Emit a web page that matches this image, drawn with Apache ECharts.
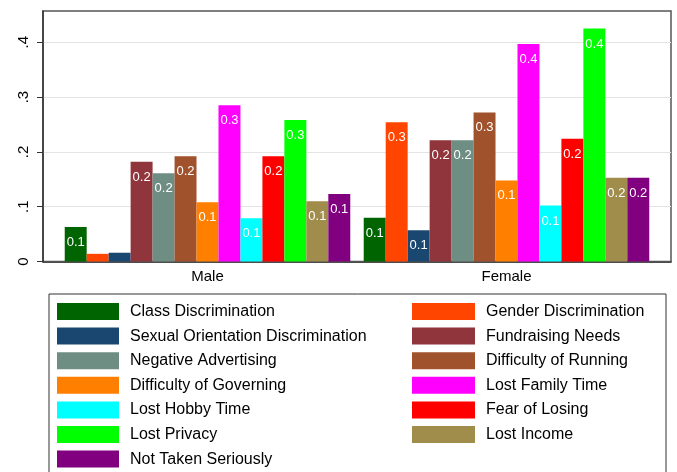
<!DOCTYPE html>
<html><head><meta charset="utf-8">
<script src="https://cdn.jsdelivr.net/npm/echarts@6/dist/echarts.min.js"></script>
<style>html,body{margin:0;padding:0;background:#fff}#c{width:677px;height:472px}</style>
</head><body><div id="c"></div>
<script>
const categories = ['Male', 'Female'];
const seriesNames = ['Class Discrimination','Gender Discrimination','Sexual Orientation Discrimination','Fundraising Needs','Negative Advertising','Difficulty of Running','Difficulty of Governing','Lost Family Time','Lost Hobby Time','Fear of Losing','Lost Privacy','Lost Income','Not Taken Seriously'];
const maleValues   = [0.063, 0.014, 0.016, 0.182, 0.161, 0.192, 0.108, 0.285, 0.079, 0.192, 0.258, 0.110, 0.123];
const femaleValues = [0.080, 0.254, 0.057, 0.221, 0.221, 0.272, 0.148, 0.397, 0.102, 0.224, 0.425, 0.153, 0.153];
const yTickValues = [0, 0.1, 0.2, 0.3, 0.4];
const yTickLabels = ['0', '.1', '.2', '.3', '.4'];
const colors = ['#006400','#ff4500','#1a476f','#90353b','#6e8e84','#a0522d','#ff7f00','#ff00ff','#00ffff','#ff0000','#00ff00','#a08c4b','#800080'];

const FONT = 'Liberation Sans, Arial, Helvetica, sans-serif';
const YMAX = 0.457;
const chart = echarts.init(document.getElementById('c'), null, {renderer: 'canvas'});

const series = seriesNames.map((n, i) => ({
  name: n, type: 'bar', xAxisIndex: 1, yAxisIndex: 1,
  barGap: '0%', barCategoryGap: '4.5%',
  itemStyle: {color: colors[i]},
  data: [maleValues[i], femaleValues[i]],
  label: {
    show: true, position: 'insideTop', distance: 9,
    color: '#fff', fontFamily: FONT, fontSize: 13,
    formatter: p => { const s = p.value.toFixed(1); return s === '0.0' ? '' : s; }
  }
}));

const legendText = {fontFamily: FONT, fontSize: 16, color: '#000', lineHeight: 17, padding: [0,0,0,6]};
chart.setOption({
  animation: false,
  color: colors,
  grid: [
    {left: 43, right: 6, top: 11, bottom: 210.5, show: true, borderColor: '#555', borderWidth: 1.5, backgroundColor: 'transparent'},
    {left: 58, right: 21, top: 11, bottom: 210.5}
  ],
  xAxis: [
    {type: 'value', gridIndex: 0, min: 0, max: 1, axisLabel: {show: false}, axisTick: {show: false}, splitLine: {show: false},
     axisLine: {show: true, lineStyle: {color: '#222', width: 1.5}}},
    {type: 'category', gridIndex: 1, data: categories, axisLine: {show: false}, axisTick: {show: false},
     axisLabel: {fontFamily: FONT, fontSize: 15, color: '#000', margin: 8}}
  ],
  yAxis: [
    {type: 'value', gridIndex: 0, min: 0, max: YMAX, interval: 0.1,
     axisLine: {show: true, lineStyle: {color: '#333', width: 1.5}},
     axisTick: {show: true, length: 6, lineStyle: {color: '#333'}, customValues: yTickValues},
     axisLabel: {rotate: 90, margin: 12, fontFamily: FONT, fontSize: 15, color: '#000', customValues: yTickValues,
       formatter: v => { const i = yTickValues.findIndex(t => Math.abs(t - v) < 1e-9); return i >= 0 ? yTickLabels[i] : ''; }},
     splitLine: {show: true, lineStyle: {color: '#e4e4e4', width: 1.2}}},
    {type: 'value', gridIndex: 1, min: 0, max: YMAX, show: false, splitLine: {show: false}}
  ],
  legend: [
    {orient: 'vertical', left: 57, top: 303, padding: 0, itemWidth: 62, itemHeight: 17, itemGap: 7.6,
     icon: 'rect', textStyle: legendText, selectedMode: false,
     data: seriesNames.filter((_, i) => i % 2 === 0)},
    {orient: 'vertical', left: 412, top: 303, padding: 0, itemWidth: 63, itemHeight: 17, itemGap: 7.6,
     icon: 'rect', textStyle: legendText, selectedMode: false,
     data: seriesNames.filter((_, i) => i % 2 === 1)}
  ],
  graphic: [
    {type: 'rect', shape: {x: 49, y: 294, width: 617, height: 200}, style: {fill: 'none', stroke: '#333', lineWidth: 1}, silent: true}
  ],
  series: series
});
</script></body></html>
